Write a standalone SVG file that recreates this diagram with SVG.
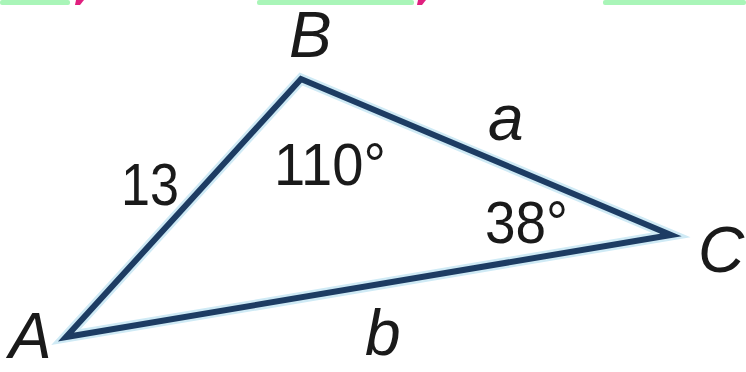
<svg xmlns="http://www.w3.org/2000/svg" width="746" height="372" viewBox="0 0 746 372">
<style>
.bar{fill:#a9f5b8}
.mark{fill:#e0207f}
.edge{fill:none;stroke:#1d3c63;stroke-width:6;stroke-linejoin:miter;stroke-linecap:round}
.halo{fill:none;stroke:#cfeaf5;stroke-width:11;stroke-linejoin:miter;stroke-linecap:round}
.lbl{font-family:"Liberation Sans",Arial,sans-serif;font-style:italic;font-size:64px;fill:#1a1a1a}
.num{font-family:"Liberation Sans",Arial,sans-serif;font-size:60px;fill:#1a1a1a}
</style>
<rect width="746" height="372" fill="#ffffff"/>
<g id="header">
<rect class="bar" x="0" y="0" width="70" height="5" rx="2"/>
<polygon class="mark" points="76,0 84,0 80,5 75,5"/>
<rect class="bar" x="257" y="0" width="157" height="5" rx="2"/>
<polygon class="mark" points="418,0 426,0 422,5 417,5"/>
<rect class="bar" x="603" y="0" width="143" height="5" rx="2"/>
</g>
<g id="connectors">
<polygon class="halo" points="66,337 301,79 671,235"/>
<polygon class="edge" points="66,337 301,79 671,235"/>
</g>
<g id="node-A"><text class="lbl" x="9" y="358">A</text></g>
<g id="node-B"><text class="lbl" x="289" y="57">B</text></g>
<g id="node-C"><text class="lbl" x="698" y="272">C</text></g>
<g id="label-a"><text class="lbl" x="488" y="140">a</text></g>
<g id="label-b"><text class="lbl" x="365" y="355">b</text></g>
<g id="label-13"><text class="num" x="121" y="205" textLength="58" lengthAdjust="spacingAndGlyphs">13</text></g>
<g id="label-110"><text class="num" x="274" y="185" textLength="112" lengthAdjust="spacingAndGlyphs">110°</text></g>
<g id="label-38"><text class="num" x="485" y="243" textLength="83" lengthAdjust="spacingAndGlyphs">38°</text></g>
</svg>
